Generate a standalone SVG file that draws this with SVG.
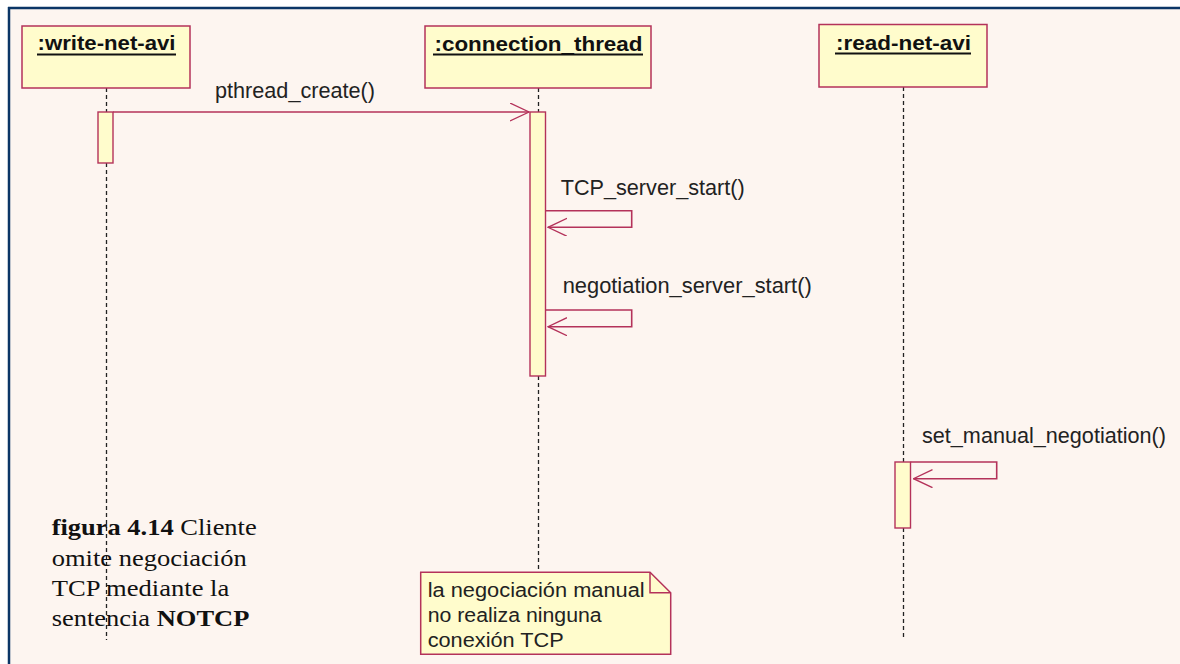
<svg xmlns="http://www.w3.org/2000/svg" width="1180" height="664" viewBox="0 0 1180 664">
  <style>
    .obj { fill: #fffccc; stroke: #b4325a; stroke-width: 1.5; }
    .act { fill: #fffccc; stroke: #b4325a; stroke-width: 1.4; }
    .title { font-family: "Liberation Sans", Arial, sans-serif; font-weight: bold; font-size: 21px; fill: #111; }
    .uline { stroke: #111; stroke-width: 2; }
    .life { stroke: #222; stroke-width: 1.3; stroke-dasharray: 4 3; fill: none; }
    .msg { stroke: #b4325a; stroke-width: 1.6; fill: none; }
    .lbl { font-family: "Liberation Sans", Arial, sans-serif; font-size: 22px; fill: #222; }
    .note { font-family: "Liberation Sans", Arial, sans-serif; font-size: 20px; fill: #222; }
    .cap { font-family: "Liberation Serif", "Times New Roman", serif; font-size: 24px; fill: #111; }
  </style>
  <defs>
    <marker id="open" viewBox="0 0 20 20" refX="19" refY="9" markerWidth="20" markerHeight="20" markerUnits="userSpaceOnUse" orient="auto">
      <path d="M0,0 L19,9 L0,18" fill="none" stroke="#b4325a" stroke-width="1.3"/>
    </marker>
  </defs>

  <!-- page and frame -->
  <rect x="0" y="0" width="1180" height="664" fill="#ffffff"/>
  <rect x="8" y="7" width="1172" height="657" fill="#fdf5f0"/>
  <line x1="8" y1="8" x2="1180" y2="8" stroke="#0a3566" stroke-width="2.5"/>
  <line x1="9" y1="7" x2="9" y2="664" stroke="#0a3566" stroke-width="2.5"/>

  <!-- lifelines -->
  <g id="lifelines">
    <path class="life" d="M106.5 88 V112 M106.5 163 V640"/>
    <path class="life" d="M538.5 88 V112 M538.5 376 V572"/>
    <path class="life" d="M903.5 87 V462 M903.5 528 V638"/>
  </g>

  <!-- objects -->
  <g id="write-net-avi">
    <rect class="obj" x="22" y="26" width="168" height="62"/>
    <text class="title" x="37.5" y="50" textLength="138" lengthAdjust="spacingAndGlyphs">:write-net-avi</text>
    <line class="uline" x1="37" y1="54.5" x2="176" y2="54.5"/>
    <rect class="act" x="98" y="112" width="15" height="51"/>
  </g>

  <g id="connection_thread">
    <rect class="obj" x="425" y="26" width="226" height="62"/>
    <text class="title" x="434.5" y="50.5" textLength="208" lengthAdjust="spacingAndGlyphs">:connection_thread</text>
    <line class="uline" x1="433" y1="54.5" x2="643" y2="54.5"/>
    <rect class="act" x="530" y="112" width="15.5" height="264"/>
  </g>

  <g id="read-net-avi">
    <rect class="obj" x="819" y="24.5" width="168" height="62.5"/>
    <text class="title" x="836" y="50" textLength="135" lengthAdjust="spacingAndGlyphs">:read-net-avi</text>
    <line class="uline" x1="835" y1="53.5" x2="971" y2="53.5"/>
    <rect class="act" x="895" y="462" width="15.5" height="66"/>
  </g>

  <!-- messages -->
  <g id="connectors">
    <line class="msg" x1="113" y1="112" x2="529" y2="112" marker-end="url(#open)"/>
    <text class="lbl" x="215" y="98" textLength="160" lengthAdjust="spacingAndGlyphs">pthread_create()</text>

    <path class="msg" d="M545.5 210.7 H631.7 V227.3 H548" marker-end="url(#open)"/>
    <text class="lbl" x="560.7" y="195" textLength="184" lengthAdjust="spacingAndGlyphs">TCP_server_start()</text>

    <path class="msg" d="M545.5 310 H631.7 V326.7 H548" marker-end="url(#open)"/>
    <text class="lbl" x="562.7" y="293" textLength="249" lengthAdjust="spacingAndGlyphs">negotiation_server_start()</text>

    <path class="msg" d="M910.5 462 H996.7 V478.7 H913.5" marker-end="url(#open)"/>
    <text class="lbl" x="922" y="443" textLength="244" lengthAdjust="spacingAndGlyphs">set_manual_negotiation()</text>
  </g>

  <!-- note -->
  <g id="note">
    <path class="obj" d="M420.7 572.3 H650 L670.7 592.7 V654.3 H420.7 Z"/>
    <path d="M650 572.3 V592.7 H670.7" fill="none" stroke="#b4325a" stroke-width="1.5"/>
    <text class="note" x="427.7" y="596.7" textLength="217" lengthAdjust="spacingAndGlyphs">la negociación manual</text>
    <text class="note" x="427.7" y="621.7" textLength="174" lengthAdjust="spacingAndGlyphs">no realiza ninguna</text>
    <text class="note" x="427.7" y="646.7" textLength="136" lengthAdjust="spacingAndGlyphs">conexión TCP</text>
  </g>

  <!-- caption -->
  <g id="caption">
    <text class="cap" x="51.7" y="535" textLength="205" lengthAdjust="spacingAndGlyphs"><tspan font-weight="bold">figura 4.14</tspan> Cliente</text>
    <text class="cap" x="51.7" y="566" textLength="195" lengthAdjust="spacingAndGlyphs">omite negociación</text>
    <text class="cap" x="51.7" y="596" textLength="177.6" lengthAdjust="spacingAndGlyphs">TCP mediante la</text>
    <text class="cap" x="51.7" y="626" textLength="197.6" lengthAdjust="spacingAndGlyphs">sentencia <tspan font-weight="bold">NOTCP</tspan></text>
  </g>
</svg>
